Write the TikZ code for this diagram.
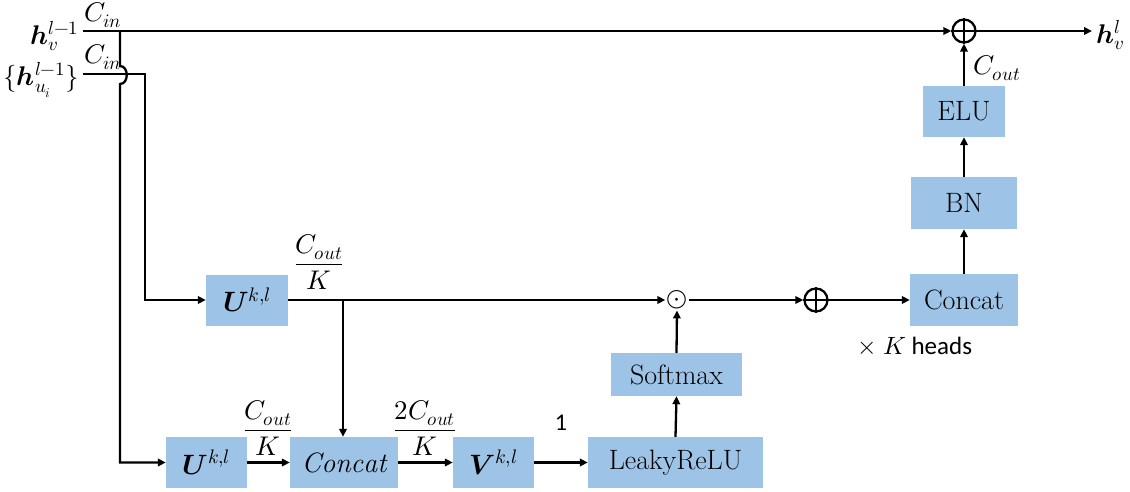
\documentclass[tikz,border=0pt]{standalone}
\usepackage{amsmath}
\usepackage{fontspec}
\usepackage{unicode-math}
\newfontfamily\labelsans{Carlito}
\usetikzlibrary{arrows.meta}
\definecolor{boxblue}{RGB}{157,195,230}
\tikzset{
  x=1pt, y=-1pt,
  wire/.style={line width=2.3pt},
  arr/.style={wire, -{Triangle[length=8pt,width=7.5pt]}},
  blk/.style={fill=boxblue, draw=none, inner sep=0pt, font=\fontsize{28}{32}\selectfont},
  lbl/.style={inner sep=0pt, font=\fontsize{27}{31}\selectfont},
  bigl/.style={inner sep=0pt, font=\fontsize{27}{31}\selectfont},
  osum/.style={circle, draw, line width=2.3pt, minimum size=23pt, inner sep=0pt},
}
\begin{document}
\begin{tikzpicture}
\useasboundingbox (0,0) rectangle (1130,492);

% inputs
\node[bigl, anchor=east] (hv) at (79,36) {$\symbfit{h}_v^{l-1}$};
\node[bigl, anchor=east] (hu) at (79,80) {$\{\symbfit{h}_{u_i}^{l-1}\}$};
\node[lbl] (cin1) at (103,15) {$C_{in}$};
\node[lbl] (cin2) at (103,57) {$C_{in}$};
\coordinate (s1) at (83,31);
\coordinate (s2) at (83,74);
\coordinate (j1) at (120,31);

% blocks
\node[blk, minimum width=82pt, minimum height=51pt] (elu) at (964,111.5) {ELU};
\node[blk, minimum width=106pt, minimum height=52pt] (bn) at (964,203) {BN};
\node[blk, minimum width=108pt, minimum height=52pt] (catR) at (964,300) {Concat};
\node[blk, minimum width=82pt, minimum height=51pt] (u1) at (247,300) {$\symbfit{U}^{k,l}$};
\node[blk, minimum width=81pt, minimum height=51pt] (u2) at (206.5,462.5) {$\symbfit{U}^{k,l}$};
\node[blk, minimum width=108pt, minimum height=51pt] (catB) at (344,462.5) {$\mathit{Concat}$};
\node[blk, minimum width=81pt, minimum height=51pt] (vv) at (493.5,462.5) {$\symbfit{V}^{k,l}$};
\node[blk, minimum width=175pt, minimum height=51pt] (lrelu) at (675.5,462.5) {LeakyReLU};
\node[blk, minimum width=131pt, minimum height=43pt] (smax) at (676.5,374.5) {Softmax};

% operators
\node[osum] (op1) at (964,31) {};
\draw[wire] (op1.north) -- (op1.south) (op1.west) -- (op1.east);
\node[osum] (op2) at (816,300) {};
\draw[wire] (op2.north) -- (op2.south) (op2.west) -- (op2.east);
\node[inner sep=1pt, font=\fontsize{27}{31}\selectfont] (dot) at (677,300) {$\odot$};

% output
\coordinate (outE) at (1092,31);
\node[bigl, anchor=west] (hout) at (1096,35) {$\symbfit{h}_v^{l}$};
\node[lbl] (cout) at (997,68) {$C_{out}$};

% edge labels
\node[lbl] (f1) at (319,262) {$\dfrac{C_{out}}{K}$};
\node[lbl] (f2) at (268,428) {$\dfrac{C_{out}}{K}$};
\node[lbl] (f3) at (425,428) {$\dfrac{2C_{out}}{K}$};
\node[inner sep=0pt, font=\labelsans\fontsize{24}{28}\selectfont] (one) at (561,423) {1};
\node[inner sep=0pt, font=\labelsans\fontsize{25}{29}\selectfont] (heads) at (915,346) {$\times$ $K$ heads};

% connectors
\draw[arr] (s1) -- (op1.west);
\draw[arr] (j1) -- (120,66) .. controls (129,66) and (129,84) .. (120,84) |- (u2.west);
\draw[arr] (s2) -- (145,74) |- (u1.west);
\draw[arr] (u1.east) -- (dot.west);
\coordinate (br) at (343,300);
\draw[arr] (br) -- (br |- catB.north);
\draw[arr] (u2.east) -- (catB.west);
\draw[arr] (catB.east) -- (vv.west);
\draw[arr] (vv.east) -- (lrelu.west);
\draw[arr] (lrelu.north) -- (smax.south);
\draw[arr] (smax.north) -- (dot.south);
\draw[arr] (dot.east) -- (op2.west);
\draw[arr] (op2.east) -- (catR.west);
\draw[arr] (catR.north) -- (bn.south);
\draw[arr] (bn.north) -- (elu.south);
\draw[arr] (elu.north) -- (op1.south);
\draw[arr] (op1.east) -- (outE);
\end{tikzpicture}
\end{document}
